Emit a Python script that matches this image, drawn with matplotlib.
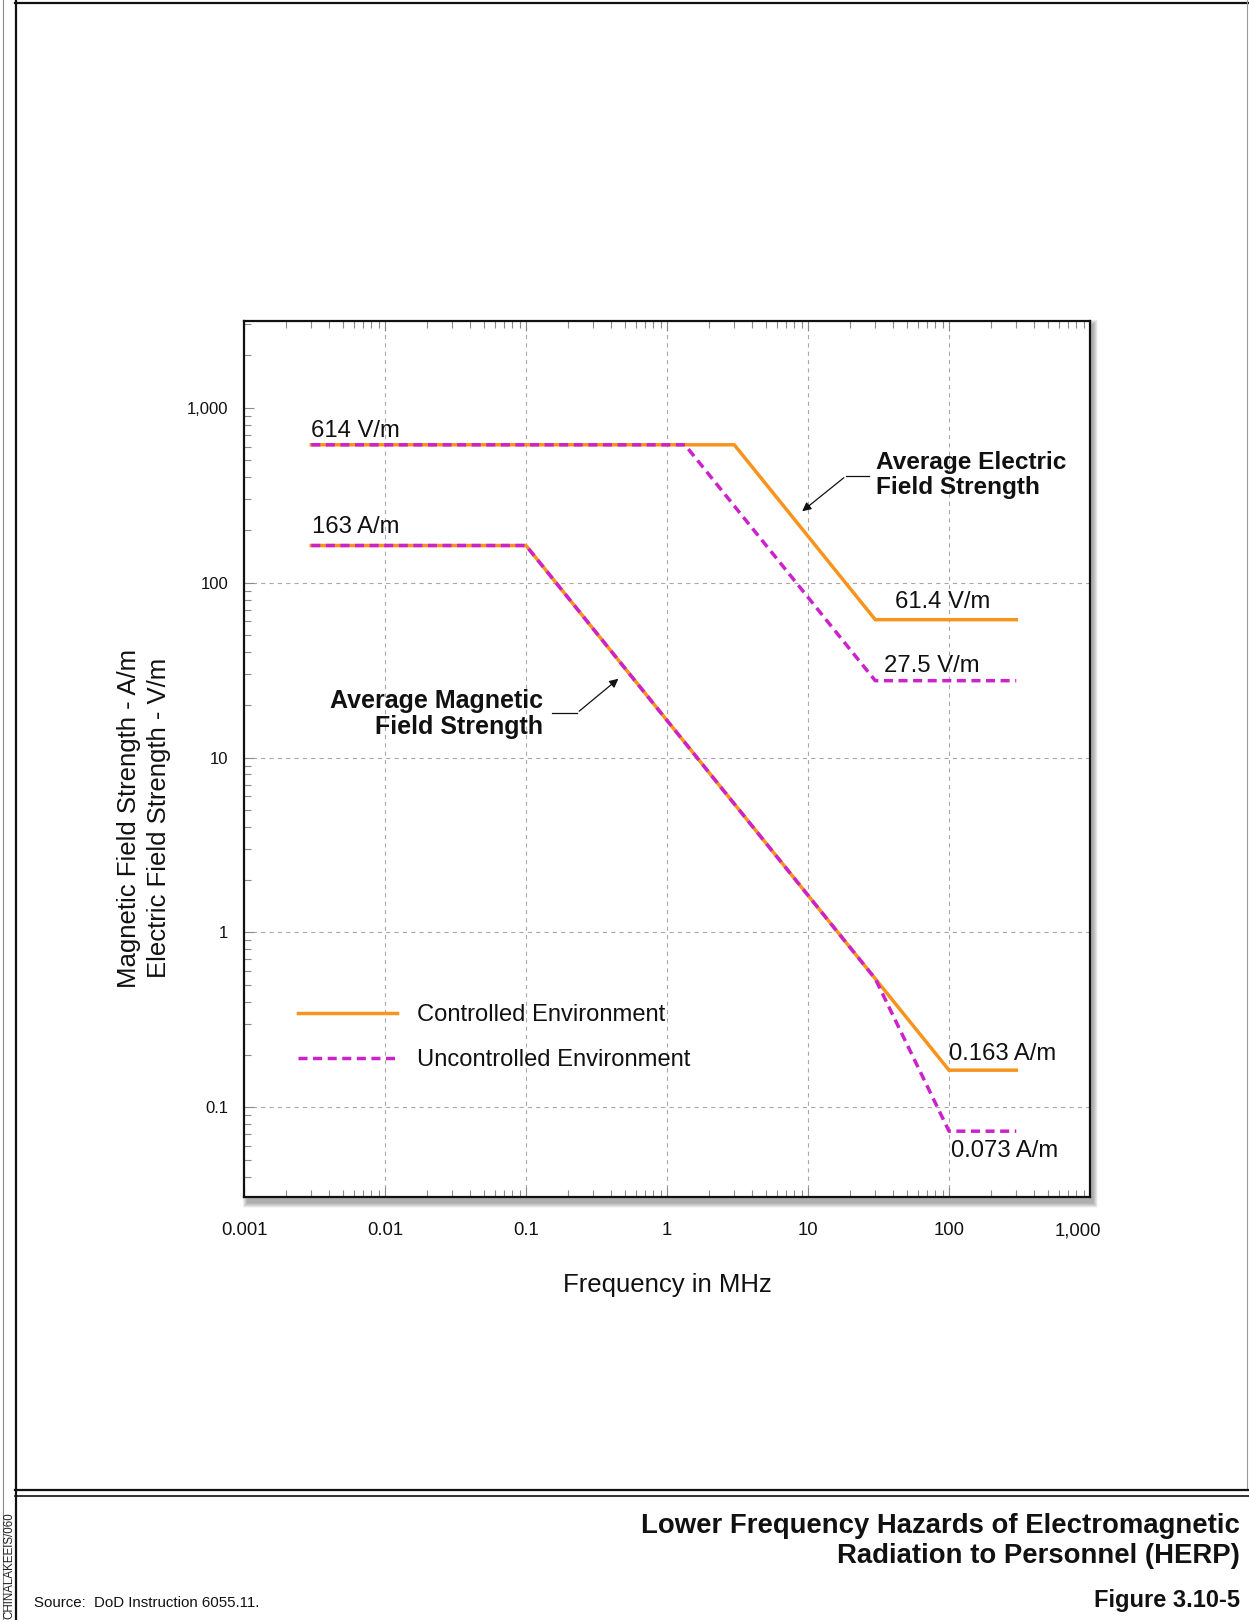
import numpy as np
import matplotlib
matplotlib.use("Agg")
import matplotlib.pyplot as plt
from matplotlib.lines import Line2D
from matplotlib.patches import Rectangle, FancyArrowPatch
from matplotlib.transforms import Affine2D, ScaledTranslation
from matplotlib.ticker import FixedLocator, FixedFormatter, LogLocator, NullFormatter

plt.rcParams['font.family'] = ['Liberation Sans', 'DejaVu Sans']
plt.rcParams['lines.scale_dashes'] = False

W, H, DPI = 1249, 1620, 100

# Exposure limits, frequency in MHz
freq_ctrl_e = [0.003, 3, 30, 300]
field_ctrl_e = [614, 614, 61.4, 61.4]          # V/m
freq_unc_e = [0.003, 1.34, 30, 300]
field_unc_e = [614, 614, 27.5, 27.5]           # V/m
freq_ctrl_h = [0.003, 0.1, 100, 300]
field_ctrl_h = [163, 163, 0.163, 0.163]        # A/m
freq_unc_h = [0.003, 0.1, 30, 100, 300]
field_unc_h = [163, 163, 0.543, 0.073, 0.073]  # A/m

x_ticks = [0.001, 0.01, 0.1, 1, 10, 100, 1000]
x_tick_labels = ["0.001", "0.01", "0.1", "1", "10", "100", "1,000"]
y_ticks = [0.1, 1, 10, 100, 1000]
y_tick_labels = ["0.1", "1", "10", "100", "1,000"]
x_grid = [0.01, 0.1, 1, 10, 100]
y_grid = [0.1, 1, 10, 100]

legend_labels = ["Controlled Environment", "Uncontrolled Environment"]

ORANGE = "#F7941E"
MAGENTA = "#CC22CC"
GRID = "#A8A8A8"
INK = "#111111"

fig = plt.figure(figsize=(W / DPI, H / DPI), dpi=DPI)
fig.patch.set_facecolor("white")
# page coordinates: pixels from the top-left corner
PX = Affine2D().scale(1, -1).translate(0, H)

# --- page frame -----------------------------------------------------------
frame = [
    ((3, 3), (0, H), "#8a8a8a", 0.8),
    ((15.5, 15.5), (0, H), INK, 1.6),
    ((15, W), (3, 3), INK, 1.6),
    ((1247, 1247), (0, 1490), "#9a9a9a", 0.8),
    ((15, W), (1490, 1490), INK, 1.6),
    ((15, W), (1496, 1496), INK, 1.2),
]
for xs, ys, c, lw in frame:
    fig.add_artist(Line2D(xs, ys, color=c, lw=lw, transform=PX))

# --- plot area ---------------------------------------------------------------
ax_l, ax_t, ax_r, ax_b = 244, 321, 1090, 1197

# soft drop shadow behind the plot box
for k in range(10):
    fig.add_artist(Rectangle((ax_l + 3 - k * 0.5, ax_t + 3 - k * 0.5),
                             (ax_r - ax_l) + k, (ax_b - ax_t) + 3 + k,
                             transform=PX, facecolor="black", edgecolor="none",
                             alpha=0.035, zorder=-1))

ax = fig.add_axes([ax_l / W, 1 - ax_b / H, (ax_r - ax_l) / W, (ax_b - ax_t) / H])
ax.set_xscale("log")
ax.set_yscale("log")
ax.set_xlim(1e-3, 1e3)
ax.set_ylim(10 ** -1.513, 10 ** 3.496)
ax.set_facecolor("white")
for s in ax.spines.values():
    s.set_linewidth(1.6)
    s.set_color(INK)
    s.set_zorder(6)

for gx in x_grid:
    ax.axvline(gx, color=GRID, lw=0.8, linestyle=(0, (3, 3)), zorder=1)
for gy in y_grid:
    ax.axhline(gy, color=GRID, lw=0.8, linestyle=(0, (3, 3)), zorder=1)

ax.xaxis.set_major_locator(FixedLocator(x_ticks))
ax.xaxis.set_major_formatter(FixedFormatter(x_tick_labels))
ax.yaxis.set_major_locator(FixedLocator(y_ticks))
ax.yaxis.set_major_formatter(FixedFormatter(y_tick_labels))
for axis in (ax.xaxis, ax.yaxis):
    axis.set_minor_locator(LogLocator(base=10, subs=np.arange(2, 10), numticks=30))
    axis.set_minor_formatter(NullFormatter())

ax.tick_params(which="both", direction="in", color="#8a8a8a", width=0.8)
ax.tick_params(which="major", length=7)
ax.tick_params(which="minor", length=5)
ax.tick_params(axis="x", which="both", top=True, bottom=True)
ax.tick_params(axis="y", which="both", left=True, right=False)
ax.tick_params(axis="x", which="major", labelsize=13.3, pad=18, labelcolor=INK)
ax.tick_params(axis="y", which="major", labelsize=12, pad=11.5, labelcolor=INK)
fig.canvas.draw()
last = ax.xaxis.get_majorticklabels()[-1]
last.set_transform(last.get_transform() + ScaledTranslation(-12 / DPI, 0, fig.dpi_scale_trans))

# --- limit curves ---------------------------------------------------------
lw = 2.5
ax.plot(freq_ctrl_e, field_ctrl_e, color=ORANGE, lw=lw, solid_joinstyle="miter", zorder=3,
        label=legend_labels[0])
ax.plot(freq_ctrl_h, field_ctrl_h, color=ORANGE, lw=lw, solid_joinstyle="miter", zorder=3)
ax.plot(freq_unc_e, field_unc_e, color=MAGENTA, lw=lw, dashes=(6.5, 4), zorder=4,
        label=legend_labels[1])
ax.plot(freq_unc_h, field_unc_h, color=MAGENTA, lw=lw, dashes=(6.5, 4), zorder=4)

# value labels, anchored on the curve breakpoints
def val_label(text, x, y, dx, dy):
    ax.annotate(text, xy=(x, y), xytext=(dx, dy), textcoords="offset pixels",
                ha="left", va="baseline", fontsize=17.2, color=INK, zorder=5)

val_label(f"{field_ctrl_e[0]:g} V/m", freq_ctrl_e[0], field_ctrl_e[0], 0, 8)
val_label(f"{field_ctrl_h[0]:g} A/m", freq_ctrl_h[0], field_ctrl_h[0], 1, 13)
val_label(f"{field_ctrl_e[-1]:g} V/m", freq_ctrl_e[2], field_ctrl_e[-1], 20, 11.5)
val_label(f"{field_unc_e[-1]:g} V/m", freq_unc_e[2], field_unc_e[-1], 9, 9)
val_label(f"{field_ctrl_h[-1]:g} A/m", freq_ctrl_h[2], field_ctrl_h[-1], 0, 10)
val_label(f"{field_unc_h[-1]:g} A/m", freq_unc_h[3], field_unc_h[-1], 2, -25.4)

# callouts (baseline given for the last line)
fig.text(876, 494, "Average Electric\nField Strength", transform=PX, ha="left",
         va="baseline", fontsize=17.6, fontweight="bold", linespacing=1.12, color=INK)
fig.text(543, 734, "Average Magnetic\nField Strength", transform=PX, ha="right",
         va="baseline", fontsize=18.0, fontweight="bold", linespacing=1.1,
         multialignment="right", color=INK)

def leader(p0, p1, tip):
    fig.add_artist(Line2D([p0[0], p1[0]], [p0[1], p1[1]], color=INK, lw=0.9,
                          transform=PX, zorder=7))
    fig.add_artist(FancyArrowPatch(p1, tip, transform=PX, arrowstyle="-|>",
                                   mutation_scale=13, lw=0.9, color=INK, zorder=7))

leader((869, 476), (846, 476), (800, 513))
leader((552, 713), (577, 713), (620.5, 677))

# legend
leg = ax.legend(loc="upper left", bbox_to_anchor=(298.3, 1004), bbox_transform=PX,
                frameon=False, fontsize=17.1, handlelength=4.14, handletextpad=0.84,
                labelspacing=0.98, borderpad=0, borderaxespad=0)
for t in leg.get_texts():
    t.set_color(INK)

# axis titles
fig.text(667, 1285, "Frequency in MHz", transform=PX, ha="center", va="center",
         fontsize=18.5, color=INK)
fig.text(144, 818, "Magnetic Field Strength - A/m\nElectric Field Strength - V/m",
         transform=PX, ha="center", va="center", rotation=90, fontsize=18.5,
         linespacing=1.3, multialignment="center", color=INK)

# --- caption block -----------------------------------------------------------
fig.text(1240, 1563, "Lower Frequency Hazards of Electromagnetic\nRadiation to Personnel (HERP)",
         transform=PX, ha="right", va="baseline", fontsize=19.8, fontweight="bold",
         linespacing=1.22, multialignment="right", color=INK)
fig.text(1240, 1607, "Figure 3.10-5", transform=PX, ha="right", va="baseline",
         fontsize=17, fontweight="bold", color=INK)
fig.text(34, 1607, "Source:  DoD Instruction 6055.11.", transform=PX, ha="left",
         va="baseline", fontsize=10.8, color=INK)
fig.text(15, 1512, "CHINALAKEEIS/060", transform=PX, ha="right", va="top",
         rotation=90, fontsize=8.3, color="#222222")

fig.savefig("out.png", dpi=DPI, facecolor="white")
